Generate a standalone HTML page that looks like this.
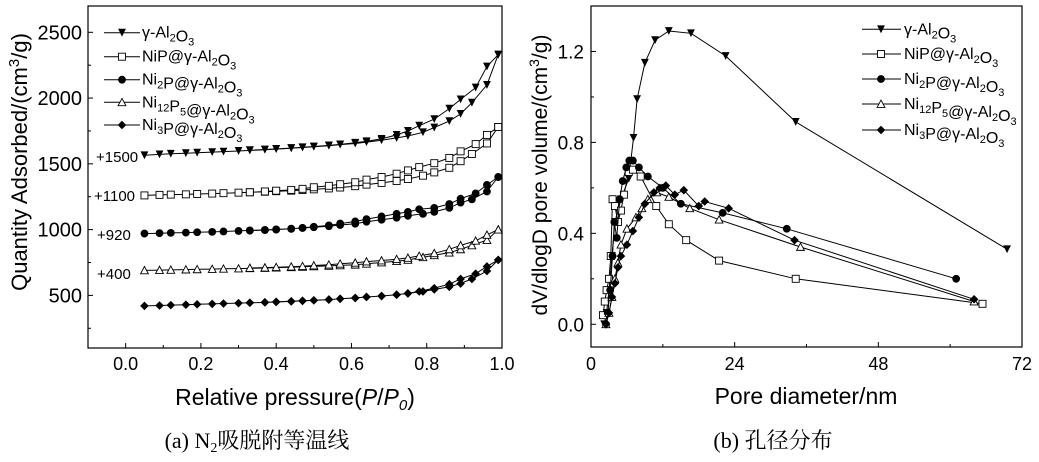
<!DOCTYPE html>
<html><head><meta charset="utf-8"><style>
body{margin:0;background:#fff}
svg{display:block;font-family:"Liberation Sans",sans-serif}
</style></head><body>
<svg id="c" width="1039" height="462" viewBox="0 0 1039 462"></svg>
<script>
// ---- Chart (a) data ----
const pAds=[0.05,0.09,0.12,0.16,0.19,0.23,0.26,0.30,0.33,0.37,0.40,0.44,0.47,0.50,0.54,0.57,0.61,0.64,0.68,0.72,0.75,0.79,0.82,0.86,0.89,0.92,0.96,0.99];
const pDes=[0.99,0.96,0.93,0.89,0.86,0.82,0.78,0.75,0.72,0.68,0.64,0.61,0.57,0.54,0.50,0.47,0.44,0.40,0.37,0.33];
const alAds=[1565,1572,1577,1581,1585,1589,1593,1598,1602,1607,1612,1618,1624,1630,1638,1646,1655,1665,1680,1697,1712,1740,1776,1825,1880,1965,2100,2330];
const alDes=[2330,2240,2080,1990,1920,1840,1790,1750,1720,1690,1672,1660,1648,1640,1632,1626,1620,1614,1609,1604];
const nipAds=[1260,1264,1266,1268,1271,1274,1277,1281,1284,1288,1292,1296,1301,1306,1313,1320,1330,1342,1355,1370,1385,1410,1435,1470,1520,1575,1655,1780];
const nipDes=[1780,1720,1650,1595,1545,1505,1475,1450,1425,1400,1380,1360,1345,1333,1322,1310,1302,1296,1290,1284];
const ni2pAds=[970,973,975,977,980,983,986,990,994,998,1002,1007,1012,1018,1026,1035,1045,1060,1075,1090,1105,1120,1135,1165,1205,1230,1290,1400];
const ni2pDes=[1400,1340,1275,1235,1195,1165,1155,1135,1120,1100,1080,1062,1046,1032,1022,1013,1006,1000,996,992];
const ni12Ads=[690,692,694,696,698,700,702,704,706,708,711,714,717,720,724,728,733,740,750,760,770,790,805,825,850,880,920,1000];
const ni12Des=[1000,960,915,880,850,820,800,785,775,765,757,748,740,733,727,722,718,714,711,708];
const ni3pAds=[420,423,426,429,432,435,438,441,444,447,451,455,459,463,468,474,480,488,495,505,515,530,545,565,590,625,685,770];
const ni3pDes=[770,720,665,625,585,555,530,515,505,495,488,481,474,468,462,458,454,450,447,444];
const aXTicks=[0,0.2,0.4,0.6,0.8,1.0];
const aXLabels=["0.0","0.2","0.4","0.6","0.8","1.0"];
const aYTicks=[500,1000,1500,2000,2500];
const offsetLabels=["+1500","+1100","+920","+400"];
// ---- Chart (b) data ----
const alD=[2.2,2.6,3,3.5,4,4.5,5,6.3,7.1,7.7,9.0,10.7,13,16.7,22.5,34.2,69.5];
const alV=[0,0.05,0.15,0.3,0.45,0.5,0.55,0.64,0.82,0.99,1.15,1.25,1.29,1.28,1.18,0.89,0.33];
const nipD=[2.0,2.3,2.6,3,3.3,3.6,4,4.5,5,5.5,6.3,7,8.3,10.9,13,15.9,21.4,34.2,65.4];
const nipV=[0.04,0.1,0.15,0.2,0.3,0.55,0.52,0.45,0.5,0.57,0.67,0.68,0.65,0.52,0.44,0.37,0.28,0.2,0.09];
const ni2pD=[2.5,2.8,3.2,3.6,3.9,4.3,4.8,5.3,5.9,6.4,7,8,9.5,12,15,22,32.7,61];
const ni2pV=[0,0.05,0.15,0.3,0.45,0.38,0.55,0.63,0.69,0.72,0.72,0.69,0.65,0.6,0.53,0.49,0.42,0.2];
const ni12D=[2.5,3,3.5,4,4.5,5,6,7.5,8.5,9.5,11,13,16.5,21.4,35,64];
const ni12V=[0,0.05,0.12,0.2,0.27,0.35,0.42,0.47,0.51,0.55,0.58,0.56,0.51,0.46,0.34,0.1];
const ni3pD=[2.5,3,3.5,4,4.5,5,6,7,8,9,10.5,11.5,12.5,14,15.5,18,19,23,34,64];
const ni3pV=[0,0.05,0.12,0.18,0.25,0.3,0.35,0.41,0.47,0.53,0.58,0.6,0.61,0.57,0.59,0.52,0.54,0.51,0.37,0.11];
const bXTicks=[0,24,48,72];
const bYTicks=[0,0.4,0.8,1.2];
const bYLabels=["0.0","0.4","0.8","1.2"];

const NS="http://www.w3.org/2000/svg";
const svg=document.getElementById('c');
function mk(tag,attrs,parent){const e=document.createElementNS(NS,tag);for(const k in attrs)e.setAttribute(k,attrs[k]);(parent||svg).appendChild(e);return e;}
function marker(g,type,x,y){
  let e;const s=3.9;
  if(type==='tri-down'){e=mk('polygon',{points:`${x-s},${y-s} ${x+s},${y-s} ${x},${y+s}`,fill:'#000'},g);}
  else if(type==='square'){e=mk('rect',{x:x-3.5,y:y-3.5,width:7,height:7,fill:'#fff',stroke:'#000','stroke-width':0.9},g);}
  else if(type==='circle'){e=mk('circle',{cx:x,cy:y,r:3.9,fill:'#000'},g);}
  else if(type==='tri-up'){e=mk('polygon',{points:`${x-s},${y+s-0.5} ${x+s},${y+s-0.5} ${x},${y-s}`,fill:'#fff',stroke:'#000','stroke-width':0.9},g);}
  else {e=mk('polygon',{points:`${x},${y-4.3} ${x+4.3},${y} ${x},${y+4.3} ${x-4.3},${y}`,fill:'#000'},g);}
  
  
}
const types=['tri-down','square','circle','tri-up','diamond'];
const names=['al2o3','nip','ni2p','ni12p5','ni3p'];
function legendText(g,x,y,i){
  const t=mk('text',{x:x,y:y+5,'font-size':16},g);
  const parts=[
    [['γ-Al',0],['2',1],['O',0],['3',1]],
    [['NiP@γ-Al',0],['2',1],['O',0],['3',1]],
    [['Ni',0],['2',1],['P@γ-Al',0],['2',1],['O',0],['3',1]],
    [['Ni',0],['12',1],['P',0],['5',1],['@γ-Al',0],['2',1],['O',0],['3',1]],
    [['Ni',0],['3',1],['P@γ-Al',0],['2',1],['O',0],['3',1]]][i];
  parts.forEach(p=>{const ts=mk('tspan',{},t);if(p[1]){ts.setAttribute('font-size',11);ts.setAttribute('dy',4);}else{ts.setAttribute('dy',0);}ts.textContent=p[0];if(p[1]){mk('tspan',{dy:-4,'font-size':16},t);}});
  
  
}

// ===== Chart (a) =====
const A={x0:88,x1:502,y0:6,y1:348,xmin:-0.1,xmax:1.0,ymin:100,ymax:2700};
const ax=v=>A.x0+(v-A.xmin)/(A.xmax-A.xmin)*(A.x1-A.x0);
const ay=v=>A.y1-(v-A.ymin)/(A.ymax-A.ymin)*(A.y1-A.y0);
const ga=mk('g',{});
const aAds=[alAds,nipAds,ni2pAds,ni12Ads,ni3pAds],aDes=[alDes,nipDes,ni2pDes,ni12Des,ni3pDes];
aAds.forEach((ser,i)=>{
  const g=mk('g',{},ga);
  const d1=pAds.map((p,j)=>(j?'L':'M')+ax(p).toFixed(1)+','+ay(ser[j]).toFixed(1)).join('');
  const d2=pDes.map((p,j)=>(j?'L':'M')+ax(p).toFixed(1)+','+ay(aDes[i][j]).toFixed(1)).join('');
  mk('path',{d:d1+d2,fill:'none',stroke:'#000','stroke-width':1},g);
  pAds.forEach((p,j)=>marker(g,types[i],ax(p),ay(ser[j])));
  pDes.forEach((p,j)=>marker(g,types[i],ax(p),ay(aDes[i][j])));
});
mk('rect',{x:A.x0,y:A.y0,width:A.x1-A.x0,height:A.y1-A.y0,fill:'none',stroke:'#000','stroke-width':1.2},ga);
aXTicks.forEach((v,i)=>{mk('line',{x1:ax(v),x2:ax(v),y1:A.y1,y2:A.y1-5,stroke:'#000'},ga);
  const t=mk('text',{x:ax(v),y:370,'font-size':18,'text-anchor':'middle'},ga);t.textContent=aXLabels[i];});
[0.1,0.3,0.5,0.7,0.9].forEach(v=>mk('line',{x1:ax(v),x2:ax(v),y1:A.y1,y2:A.y1-3,stroke:'#000'},ga));
aYTicks.forEach(v=>{mk('line',{x1:A.x0,x2:A.x0+5,y1:ay(v),y2:ay(v),stroke:'#000'},ga);
  const t=mk('text',{x:82,y:ay(v)+7,'font-size':20,'text-anchor':'end'},ga);t.textContent=v;});
[250,750,1250,1750,2250].forEach(v=>mk('line',{x1:A.x0,x2:A.x0+3,y1:ay(v),y2:ay(v),stroke:'#000'},ga));
[[96,162],[94,201],[97,240],[97,279]].forEach((p,i)=>{const t=mk('text',{x:p[0],y:p[1],'font-size':15},ga);t.textContent=offsetLabels[i];});
[32.7,56.7,79.7,102.3,125].forEach((y,i)=>{const g=mk('g',{},ga);
  mk('line',{x1:104,x2:140,y1:y,y2:y,stroke:'#000'},g);marker(g,types[i],122,y);legendText(g,142,y,i);});
let t=mk('text',{x:295,y:405,'font-size':23,'text-anchor':'middle'},ga);t.innerHTML='Relative pressure(<tspan font-style="italic">P</tspan>/<tspan font-style="italic">P</tspan><tspan font-style="italic" font-size="15" dy="5">0</tspan><tspan dy="-5">)</tspan>';
t=mk('text',{transform:'translate(27,162) rotate(-90)','font-size':22,'text-anchor':'middle'},ga);t.innerHTML='Quantity Adsorbed/(cm<tspan font-size="15" dy="-8">3</tspan><tspan dy="8">/g)</tspan>';
t=mk('text',{x:257,y:448,'font-size':22,'text-anchor':'middle','font-family':'"Liberation Serif","Noto Serif CJK SC",serif'},ga);t.innerHTML='(a) N<tspan font-size="14" dy="4">2</tspan><tspan dy="-4">吸脱附等温线</tspan>';

// ===== Chart (b) =====
const B={x0:591,x1:1022,y0:6,y1:347,xmin:0,xmax:72,ymin:-0.1,ymax:1.4};
const bx=v=>B.x0+(v-B.xmin)/(B.xmax-B.xmin)*(B.x1-B.x0);
const by=v=>B.y1-(v-B.ymin)/(B.ymax-B.ymin)*(B.y1-B.y0);
const gb=mk('g',{});
const bD=[alD,nipD,ni2pD,ni12D,ni3pD],bV=[alV,nipV,ni2pV,ni12V,ni3pV];
bD.forEach((xs,i)=>{
  const g=mk('g',{},gb);
  mk('path',{d:xs.map((x,j)=>(j?'L':'M')+bx(x).toFixed(1)+','+by(bV[i][j]).toFixed(1)).join(''),fill:'none',stroke:'#000','stroke-width':1},g);
  xs.forEach((x,j)=>marker(g,types[i],bx(x),by(bV[i][j])));
});
mk('rect',{x:B.x0,y:B.y0,width:B.x1-B.x0,height:B.y1-B.y0,fill:'none',stroke:'#000','stroke-width':1.2},gb);
bXTicks.forEach(v=>{mk('line',{x1:bx(v),x2:bx(v),y1:B.y1,y2:B.y1-5,stroke:'#000'},gb);
  const t=mk('text',{x:bx(v),y:370,'font-size':18,'text-anchor':'middle'},gb);t.textContent=v;});
[12,36,60].forEach(v=>mk('line',{x1:bx(v),x2:bx(v),y1:B.y1,y2:B.y1-3,stroke:'#000'},gb));
bYTicks.forEach((v,i)=>{mk('line',{x1:B.x0,x2:B.x0+5,y1:by(v),y2:by(v),stroke:'#000'},gb);
  const t=mk('text',{x:584,y:by(v)+7,'font-size':19,'text-anchor':'end'},gb);t.textContent=bYLabels[i];});
[0.2,0.6,1.0].forEach(v=>mk('line',{x1:B.x0,x2:B.x0+3,y1:by(v),y2:by(v),stroke:'#000'},gb));
[29.3,54,79,104,130].forEach((y,i)=>{const g=mk('g',{},gb);
  mk('line',{x1:862,x2:901,y1:y,y2:y,stroke:'#000'},g);marker(g,types[i],881,y);legendText(g,904,y,i);});
t=mk('text',{x:806,y:404,'font-size':23,'text-anchor':'middle'},gb);t.textContent='Pore diameter/nm';
t=mk('text',{transform:'translate(547,175) rotate(-90)','font-size':21,'text-anchor':'middle'},gb);t.innerHTML='dV/dlogD pore volume/(cm<tspan font-size="14" dy="-8">3</tspan><tspan dy="8">/g)</tspan>';
t=mk('text',{x:773,y:448,'font-size':22,'text-anchor':'middle','font-family':'"Liberation Serif","Noto Serif CJK SC",serif'},gb);t.textContent='(b) 孔径分布';
</script>
</body></html>
